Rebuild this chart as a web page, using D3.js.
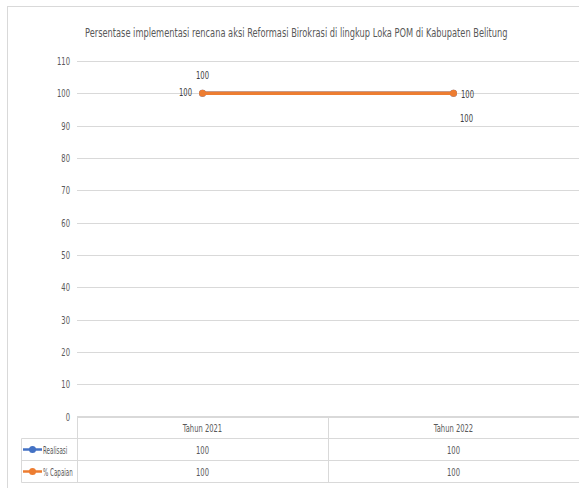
<!DOCTYPE html>
<html>
<head>
<meta charset="utf-8">
<script src="https://cdn.jsdelivr.net/npm/d3@7"></script>
<style>
  body { margin: 0; background: #fff; }
  svg { display: block; }
  text { font-family: "DejaVu Sans Condensed", "Liberation Sans Narrow", sans-serif; }
</style>
</head>
<body>
<svg id="chart" width="579" height="488"></svg>
<script>
// Chart data
const categories = ['Tahun 2021', 'Tahun 2022'];
const realisasi = [100, 100];
const capaian = [100, 100];
const yTicks = [0, 10, 20, 30, 40, 50, 60, 70, 80, 90, 100, 110];
const titleText = 'Persentase implementasi rencana aksi Reformasi Birokrasi di lingkup Loka POM di Kabupaten Belitung';

const series = [
  {name: 'Realisasi', values: realisasi, color: '#4472C4'},
  {name: '% Capaian', values: capaian, color: '#ED7D31'}
];

const svg = d3.select('#chart');
const grid = '#d9d9d9';
const textColor = '#595959';
const squeeze = 0.72; // the original font is very narrow

// Outer chart border (right and bottom fall off the picture)
svg.append('rect')
  .attr('x', 7.5).attr('y', 6.5)
  .attr('width', 600).attr('height', 520)
  .attr('fill', 'none').attr('stroke', grid);

// Narrow text helper
function label(g, x, y, txt, anchor, size, color, sq) {
  return g.append('text')
    .attr('transform', `translate(${x},${y}) scale(${sq || squeeze},1)`)
    .attr('text-anchor', anchor)
    .attr('font-size', size)
    .attr('fill', color || textColor)
    .text(txt);
}

// Title, squeezed to the width it has in the picture
const title = svg.append('text')
  .attr('font-size', 13)
  .attr('fill', textColor)
  .text(titleText);
const titleW = title.node().getComputedTextLength();
title.attr('transform', `translate(85,37) scale(${423 / titleW},1)`);

const left = 77, right = 579;
const x = d3.scaleBand().domain(categories).range([left, right]);
const y = d3.scaleLinear().domain([0, 110]).range([416.5, 61]);

// Gridlines
svg.append('g').selectAll('line').data(yTicks).join('line')
  .attr('x1', left).attr('x2', right)
  .attr('y1', d => Math.round(y(d)) + 0.5).attr('y2', d => Math.round(y(d)) + 0.5)
  .attr('stroke', grid);

// Y tick labels
const yl = svg.append('g');
yTicks.forEach(t => label(yl, 70, Math.round(y(t)) + 4, t, 'end', 10.5));

// Lines and markers
const line = d3.line()
  .x((d, i) => x(categories[i]) + x.bandwidth() / 2)
  .y(d => y(d));

series.forEach(s => {
  svg.append('path')
    .datum(s.values)
    .attr('d', line)
    .attr('fill', 'none')
    .attr('stroke', s.color)
    .attr('stroke-width', 3.5)
    .attr('stroke-linecap', 'round');
  svg.append('g').selectAll('circle').data(s.values).join('circle')
    .attr('cx', (d, i) => x(categories[i]) + x.bandwidth() / 2)
    .attr('cy', d => y(d))
    .attr('r', 3.5)
    .attr('fill', s.color);
});

// Data labels: Realisasi left/right, Capaian above/below
const dl = svg.append('g');
const cx = i => x(categories[i]) + x.bandwidth() / 2;
label(dl, cx(0) - 17, y(realisasi[0]) + 3, realisasi[0], 'middle', 10.5, '#404040');
label(dl, cx(1) + 14, y(realisasi[1]) + 5, realisasi[1], 'middle', 10.5, '#404040');
label(dl, cx(0), y(capaian[0]) - 14, capaian[0], 'middle', 10.5, '#404040');
label(dl, cx(1) + 13, y(capaian[1]) + 29, capaian[1], 'middle', 10.5, '#404040');

// Data table
const tbl = svg.append('g');
const rowY = [416.5, 438.5, 460.5, 482.5];
const tableLeft = 21.5;
// horizontal lines
tbl.append('line').attr('x1', left).attr('x2', right).attr('y1', rowY[0]).attr('y2', rowY[0]).attr('stroke', grid);
[1, 2, 3].forEach(r => {
  tbl.append('line').attr('x1', tableLeft).attr('x2', right).attr('y1', rowY[r]).attr('y2', rowY[r]).attr('stroke', grid);
});
// vertical lines
tbl.append('line').attr('x1', tableLeft).attr('x2', tableLeft).attr('y1', rowY[1]).attr('y2', rowY[3]).attr('stroke', grid);
[left, x(categories[1])].forEach(v => {
  tbl.append('line').attr('x1', v + 0.5).attr('x2', v + 0.5).attr('y1', rowY[0]).attr('y2', rowY[3]).attr('stroke', grid);
});

categories.forEach((c, i) => label(tbl, cx(i), rowY[0] + 15, c, 'middle', 10.5));
series.forEach((s, r) => {
  const my = (rowY[r + 1] + rowY[r + 2]) / 2;
  // legend key: line with marker
  tbl.append('line').attr('x1', 23).attr('x2', 42).attr('y1', my).attr('y2', my)
    .attr('stroke', s.color).attr('stroke-width', 2.5);
  tbl.append('circle').attr('cx', 32.5).attr('cy', my).attr('r', 3.5).attr('fill', s.color);
  label(tbl, 43, my + 4, s.name, 'start', 10, textColor, 0.62);
  s.values.forEach((v, i) => label(tbl, cx(i), my + 4, v, 'middle', 10.5));
});
</script>
</body>
</html>
